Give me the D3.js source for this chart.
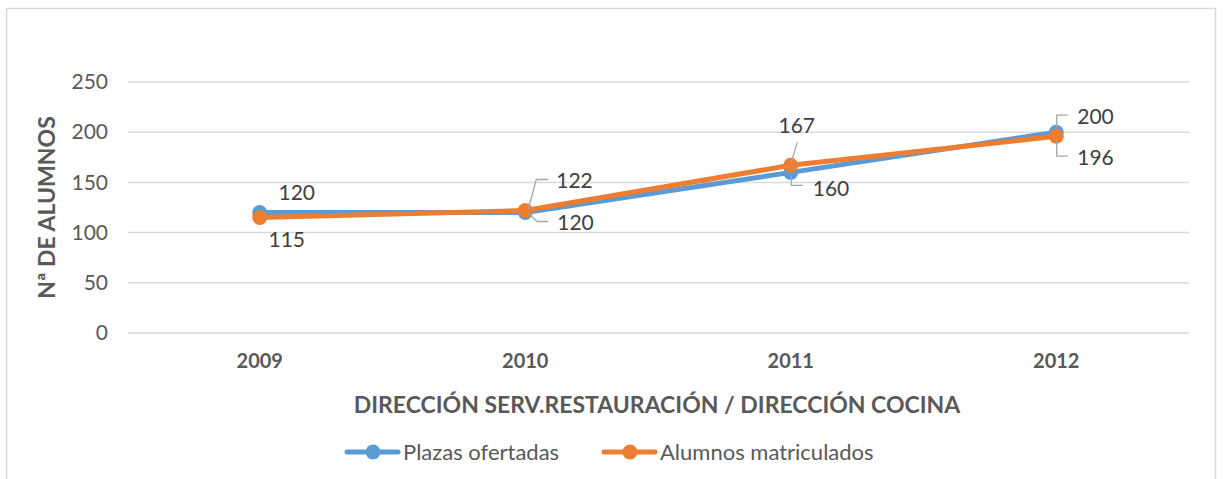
<!DOCTYPE html>
<html>
<head>
<meta charset="utf-8">
<script src="https://cdn.jsdelivr.net/npm/d3@7"></script>
<style>
  body { margin: 0; background: #fff; }
  svg text { font-family: Lato, "Open Sans", sans-serif; }
</style>
</head>
<body>
<div id="chart"></div>
<script>
const years = ['2009', '2010', '2011', '2012'];
const plazas = [120, 120, 160, 200];
const alumnos = [115, 122, 167, 196];
const y_ticks = [0, 50, 100, 150, 200, 250];
const series_names = ['Plazas ofertadas', 'Alumnos matriculados'];
const COLORS = ['#5B9BD5', '#ED7D31'];

const W = 1223, H = 479;
const PLOT = { LEFT: 127, RIGHT: 1189, TOP: 82, BOTTOM: 333 };

let svg = d3.select('#chart').append('svg')
    .attr('width', W).attr('height', H);

// chart frame
svg.append('rect')
    .attr('x', 6.5).attr('y', 8.5)
    .attr('width', 1209).attr('height', 480)
    .attr('fill', '#fff').attr('stroke', '#d9d9d9').attr('stroke-width', 1.5);

let x = d3.scaleBand().domain(years).range([PLOT.LEFT, PLOT.RIGHT]);
let y = d3.scaleLinear().domain([0, 250]).range([PLOT.BOTTOM, PLOT.TOP]);

// gridlines
svg.append('g').selectAll('line')
    .data(y_ticks)
    .enter().append('line')
    .attr('x1', PLOT.LEFT + 1).attr('x2', PLOT.RIGHT)
    .attr('y1', d => y(d)).attr('y2', d => y(d))
    .attr('stroke', '#d9d9d9').attr('stroke-width', 1.5);

// y axis labels
let y_axis = svg.append('g')
    .attr('transform', `translate(${PLOT.LEFT - 19},0)`)
    .call(d3.axisLeft(y).tickValues(y_ticks).tickSize(0).tickPadding(0));
y_axis.select('.domain').remove();
y_axis.selectAll('text')
    .attr('font-size', 21).attr('fill', '#595959')
    .style('font-family', 'Lato, sans-serif');

// x axis labels
let x_axis = svg.append('g')
    .attr('transform', `translate(0,${PLOT.BOTTOM + 21})`)
    .call(d3.axisBottom(x).tickSize(0).tickPadding(0));
x_axis.select('.domain').remove();
x_axis.selectAll('text')
    .attr('font-size', 20).attr('font-weight', 700).attr('fill', '#595959')
    .style('font-family', 'Lato, sans-serif');

// axis titles
svg.append('text')
    .attr('x', 657).attr('y', 413)
    .attr('text-anchor', 'middle')
    .attr('font-size', 23).attr('font-weight', 700).attr('fill', '#595959')
    .text('DIRECCIÓN SERV.RESTAURACIÓN / DIRECCIÓN COCINA');

svg.append('text')
    .attr('transform', `translate(55,${(y(0) + y(250)) / 2}) rotate(-90)`)
    .attr('text-anchor', 'middle')
    .attr('font-size', 23).attr('font-weight', 700).attr('fill', '#595959')
    .text('Nª DE ALUMNOS');

// lines
let cx = d => x(d) + x.bandwidth() / 2;
let line = d3.line().x(d => cx(d[0])).y(d => y(d[1]));

[plazas, alumnos].forEach((vals, i) => {
    let pts = years.map((yr, j) => [yr, vals[j]]);
    svg.append('path')
        .datum(pts)
        .attr('fill', 'none')
        .attr('stroke', COLORS[i])
        .attr('stroke-width', 5)
        .attr('stroke-linejoin', 'round')
        .attr('d', line);
    svg.append('g').selectAll('circle')
        .data(pts).enter().append('circle')
        .attr('cx', d => cx(d[0])).attr('cy', d => y(d[1]))
        .attr('r', 7.5).attr('fill', COLORS[i]);
});

// data labels: series, year index, label offset, anchor, leader offsets (relative to point)
const label_pos = [
    { s: 0, i: 0, dx: 37, dy: -20, anchor: 'middle', leader: null },
    { s: 1, i: 0, dx: 27, dy: 22, anchor: 'middle', leader: null },
    { s: 0, i: 1, dx: 32, dy: 10, anchor: 'start', leader: [[3, 1], [12, 9], [23, 9]] },
    { s: 1, i: 1, dx: 31, dy: -30, anchor: 'start', leader: [[3, -1], [11, -31], [23, -31]] },
    { s: 0, i: 2, dx: 22, dy: 16, anchor: 'start', leader: [[0.5, 3], [0.5, 13], [12, 13]] },
    { s: 1, i: 2, dx: 6, dy: -40, anchor: 'middle', leader: [[0.5, -3], [6.5, -23]] },
    { s: 0, i: 3, dx: 21, dy: -16, anchor: 'start', leader: [[0.5, -4], [0.5, -17], [11.5, -17]] },
    { s: 1, i: 3, dx: 21, dy: 21, anchor: 'start', leader: [[0.5, 4], [0.5, 20], [11.5, 20]] }
];
let lbl = svg.append('g');
label_pos.forEach(p => {
    let vals = p.s === 0 ? plazas : alumnos;
    let px = cx(years[p.i]), py = y(vals[p.i]);
    lbl.append('text')
        .attr('x', px + p.dx).attr('y', py + p.dy)
        .attr('text-anchor', p.anchor).attr('dy', '0.35em')
        .attr('font-size', 21).attr('fill', '#404040')
        .text(vals[p.i]);
    if (p.leader) {
        lbl.append('path')
            .attr('d', d3.line()(p.leader.map(o => [px + o[0], py + o[1]])))
            .attr('fill', 'none').attr('stroke', '#a6a6a6').attr('stroke-width', 1.3);
    }
});

// legend
let legend = svg.append('g');
const legend_x = [345, 602];
series_names.forEach((name, i) => {
    let lx = legend_x[i], ly = 452;
    legend.append('line')
        .attr('x1', lx + 2).attr('x2', lx + 53)
        .attr('y1', ly).attr('y2', ly)
        .attr('stroke', COLORS[i]).attr('stroke-width', 5).attr('stroke-linecap', 'round');
    legend.append('circle')
        .attr('cx', lx + 28).attr('cy', ly).attr('r', 7.5).attr('fill', COLORS[i]);
    legend.append('text')
        .attr('x', lx + 58).attr('y', ly).attr('dy', '0.35em')
        .attr('font-size', 22).attr('fill', '#595959')
        .text(name);
});
</script>
</body>
</html>
